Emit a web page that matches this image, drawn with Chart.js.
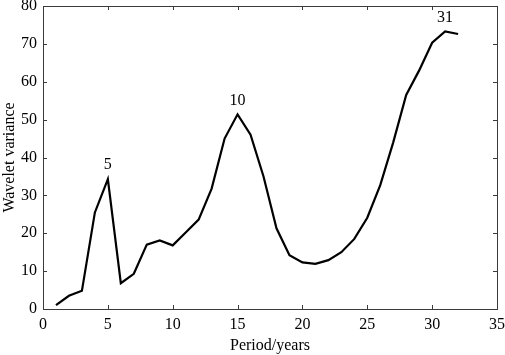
<!DOCTYPE html>
<html>
<head>
<meta charset="utf-8">
<script src="https://cdn.jsdelivr.net/npm/chart.js@4"></script>
<style>
  html, body { margin: 0; padding: 0; background: #fff; }
  #chart { display: block; }
</style>
</head>
<body>
<canvas id="chart" width="505" height="355"></canvas>
<script>
// period in years and wavelet variance
const periods = [1, 2, 3, 4, 5, 6, 7, 8, 9, 10, 11, 12, 13, 14, 15, 16,
  17, 18, 19, 20, 21, 22, 23, 24, 25, 26, 27, 28, 29, 30, 31, 32];
const variance = [1.0, 3.5, 4.8, 25.5, 34.3, 6.8, 9.3, 17.0, 18.1, 16.8, 20.2, 23.6,
  31.8, 45.0, 51.4, 46.0, 35.0, 21.3, 14.2, 12.3, 11.9, 12.9, 15.0, 18.5,
  24.1, 32.7, 44.0, 56.5, 63.0, 70.3, 73.3, 72.6];
const peakPeriods = [5, 15, 31];
const peakLabels = ['5', '10', '31'];

const FONT = '"Liberation Serif", "Times New Roman", serif';
const frameColor = '#3a3a3a';

// box around the plot with ticks pointing inward, plus the peak labels
const framePlugin = {
  id: 'frame',
  afterDatasetsDraw(chart) {
    const { ctx, chartArea: a, scales: { x, y } } = chart;
    const len = 4;
    ctx.save();
    ctx.strokeStyle = frameColor;
    ctx.lineWidth = 1;
    ctx.beginPath();
    x.ticks.forEach(t => {
      const px = Math.round(x.getPixelForValue(t.value)) + 0.5;
      ctx.moveTo(px, a.bottom); ctx.lineTo(px, a.bottom - len);
      ctx.moveTo(px, a.top); ctx.lineTo(px, a.top + len);
    });
    y.ticks.forEach(t => {
      const py = Math.round(y.getPixelForValue(t.value)) + 0.5;
      ctx.moveTo(a.left, py); ctx.lineTo(a.left + len, py);
      ctx.moveTo(a.right, py); ctx.lineTo(a.right - len, py);
    });
    ctx.stroke();
    ctx.strokeRect(Math.round(a.left) + 0.5, Math.round(a.top) + 0.5,
      Math.round(a.right - a.left), Math.round(a.bottom - a.top));

    ctx.fillStyle = '#000';
    ctx.font = '16px ' + FONT;
    ctx.textAlign = 'center';
    ctx.textBaseline = 'bottom';
    peakPeriods.forEach((p, i) => {
      const v = variance[periods.indexOf(p)];
      ctx.fillText(peakLabels[i], x.getPixelForValue(p), y.getPixelForValue(v) - 6);
    });
    ctx.restore();
  }
};

new Chart(document.getElementById('chart'), {
  type: 'line',
  data: {
    datasets: [{
      data: periods.map((p, i) => ({ x: p, y: variance[i] })),
      borderColor: '#000',
      borderWidth: 2.2,
      pointRadius: 0,
      tension: 0,
      fill: false
    }]
  },
  options: {
    responsive: false,
    animation: false,
    layout: { padding: { top: 6, right: 8, left: 0, bottom: 0 } },
    plugins: { legend: { display: false }, tooltip: { enabled: false } },
    scales: {
      x: {
        type: 'linear',
        min: 0,
        max: 35,
        grid: { display: false, drawTicks: false },
        border: { display: false },
        ticks: { stepSize: 5, color: '#000', padding: 6, maxRotation: 0, font: { family: FONT, size: 16 } },
        title: { display: true, text: 'Period/years', color: '#000', padding: { top: 3, bottom: 0 }, font: { family: FONT, size: 16 } },
        afterFit(scale) {
          scale.height = 46;
          scale.paddingLeft = 0;
          scale.paddingRight = 0;
        }
      },
      y: {
        min: 0,
        max: 80,
        grid: { display: false, drawTicks: false },
        border: { display: false },
        ticks: { stepSize: 10, color: '#000', padding: 6, font: { family: FONT, size: 16 } },
        title: { display: true, text: 'Wavelet variance', color: '#000', padding: { top: 0, bottom: 1 }, font: { family: FONT, size: 16 } },
        afterFit(scale) {
          scale.width = 43;
          scale.paddingTop = 0;
          scale.paddingBottom = 0;
        }
      }
    }
  },
  plugins: [framePlugin]
});
</script>
</body>
</html>
